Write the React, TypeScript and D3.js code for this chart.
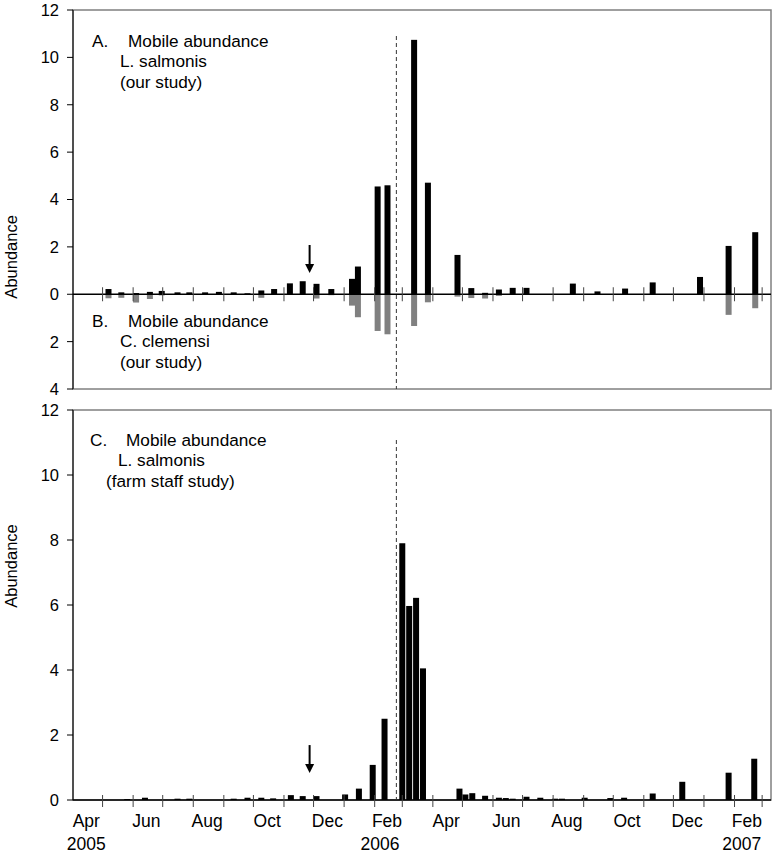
import React from "react";
import * as d3 from "d3";

// ---------- DATA ----------
// Panel A/B: our study (sampling dates, L. salmonis above, C. clemensi below)
const studyDates = [
  "2005-05-07", "2005-05-20", "2005-06-04", "2005-06-18", "2005-06-30", "2005-07-16",
  "2005-07-28", "2005-08-13", "2005-08-27", "2005-09-11", "2005-09-25", "2005-10-09",
  "2005-10-22", "2005-11-07", "2005-11-20", "2005-12-04", "2005-12-19", "2006-01-09",
  "2006-01-15", "2006-02-04", "2006-02-14", "2006-03-13", "2006-03-27", "2006-04-26",
  "2006-05-10", "2006-05-24", "2006-06-07", "2006-06-21", "2006-07-05", "2006-08-21",
  "2006-09-15", "2006-10-13", "2006-11-10", "2006-12-28", "2007-01-26", "2007-02-22",
];
const salmonisStudy = [
  0.22, 0.08, 0.05, 0.1, 0.14, 0.08,
  0.08, 0.08, 0.1, 0.08, 0.04, 0.16,
  0.22, 0.46, 0.55, 0.44, 0.22, 0.65,
  1.17, 4.55, 4.6, 10.74, 4.71, 1.66,
  0.26, 0.06, 0.2, 0.27, 0.27, 0.45,
  0.12, 0.24, 0.5, 0.73, 2.04, 2.62,
];
const clemensiStudy = [
  0.17, 0.15, 0.35, 0.2, 0.05, 0,
  0, 0, 0, 0, 0, 0.15,
  0, 0, 0, 0.18, 0.04, 0.48,
  0.97, 1.55, 1.69, 1.34, 0.34, 0.1,
  0.16, 0.18, 0.07, 0, 0.03, 0,
  0, 0, 0, 0, 0.87, 0.59,
];

// Panel C: farm staff study
const farmDates = [
  "2005-05-26", "2005-06-13", "2005-07-16", "2005-07-28", "2005-09-11", "2005-09-25",
  "2005-10-09", "2005-10-21", "2005-11-08", "2005-11-20", "2005-12-04", "2006-01-02",
  "2006-01-16", "2006-01-30", "2006-02-11", "2006-03-01", "2006-03-08", "2006-03-15",
  "2006-03-22", "2006-04-28", "2006-05-04", "2006-05-11", "2006-05-24", "2006-06-07",
  "2006-06-14", "2006-06-21", "2006-07-05", "2006-07-19", "2006-08-03", "2006-08-10",
  "2006-09-02", "2006-09-28", "2006-10-12", "2006-11-10", "2006-12-10", "2007-01-26",
  "2007-02-21",
];
const salmonisFarm = [
  0.03, 0.07, 0.04, 0.04, 0.04, 0.07,
  0.07, 0.05, 0.15, 0.12, 0.12, 0.17,
  0.35, 1.08, 2.5, 7.9, 5.97, 6.22,
  4.05, 0.35, 0.17, 0.21, 0.13, 0.07,
  0.06, 0.04, 0.1, 0.07, 0.04, 0.04,
  0.07, 0.06, 0.07, 0.2, 0.56, 0.84,
  1.27,
];

const topTickValues = [12, 10, 8, 6, 4, 2, 0, -2, -4];
const bottomTickValues = [12, 10, 8, 6, 4, 2, 0];
const monthLabelDates = [
  "2005-04-01", "2005-06-01", "2005-08-01", "2005-10-01", "2005-12-01", "2006-02-01",
  "2006-04-01", "2006-06-01", "2006-08-01", "2006-10-01", "2006-12-01", "2007-02-01",
];
const monthLabelTexts = ["Apr", "Jun", "Aug", "Oct", "Dec", "Feb", "Apr", "Jun", "Aug", "Oct", "Dec", "Feb"];
const yearLabelDates = ["2005-04-01", "2006-02-01", "2007-02-01"];
const yearLabelTexts = ["2005", "2006", "2007"];
const yearLabelShift = [0, -7, -5];

const domainStart = "2005-04-01";
const domainEnd = "2007-03-10";
const fallowDate = "2006-02-23";
const arrowDate = "2005-11-27";
const arrowTop = [2.08, 1.69];
const arrowTip = [0.9, 0.83];

const panelAText = ["A.", "Mobile abundance", "L. salmonis", "(our study)"];
const panelBText = ["B.", "Mobile abundance", "C. clemensi", "(our study)"];
const panelCText = ["C.", "Mobile abundance", "L. salmonis", "(farm staff study)"];

// ---------- LAYOUT ----------
const W = 772;
const H = 858;
const left = 73;
const right = 771;
const topA = 10;
const bottomA = 389;
const topC = 410;
const bottomC = 800;
const FONT = "'Liberation Sans', Arial, Helvetica, sans-serif";
const GREY = "#808080";

const parse = d3.timeParse("%Y-%m-%d");

export default function App() {
  const x = d3
    .scaleTime()
    .domain([parse(domainStart)!, parse(domainEnd)!])
    .range([left, right]);
  const yA = d3.scaleLinear().domain([-4, 12]).range([bottomA, topA]);
  const yC = d3.scaleLinear().domain([0, 12]).range([bottomC, topC]);

  const monthTicks = d3.timeMonth.range(parse("2005-05-01")!, parse("2007-03-02")!);
  const barW = 6;

  const monthMid = (s: string) => {
    const d = parse(s)!;
    const e = d3.timeMonth.offset(d, 1);
    return (x(d) + x(e)) / 2 - 1.5;
  };

  const arrow = (xv: number, y1: number, y2: number) => (
    <g>
      <line x1={xv} x2={xv} y1={y1} y2={y2 - 8} stroke="#000" strokeWidth={2} />
      <path d={`M${xv - 4.5},${y2 - 9} L${xv + 4.5},${y2 - 9} L${xv},${y2} Z`} fill="#000" />
    </g>
  );

  const yAxis = (scale: d3.ScaleLinear<number, number>, ticks: number[], y0: number, y1: number) => (
    <g>
      <line x1={left} x2={left} y1={y0} y2={y1} stroke="#000" strokeWidth={1} />
      {ticks.map((t, i) => (
        <g key={i}>
          <line x1={left - 6} x2={left} y1={scale(t)} y2={scale(t)} stroke="#000" />
          <text
            x={59}
            y={scale(t)}
            dy="0.36em"
            textAnchor="end"
            fontSize={16.5}
            fontFamily={FONT}
            fill="#000"
          >
            {Math.abs(t)}
          </text>
        </g>
      ))}
    </g>
  );

  const panelText = (lines: string[], bx: number, by: number, subX: number, sub2X: number) => (
    <g fontFamily={FONT} fontSize={17.2} fill="#000">
      <text x={bx} y={by}>{lines[0]}</text>
      <text x={bx + 36} y={by}>{lines[1]}</text>
      <text x={subX} y={by + 20}>{lines[2]}</text>
      <text x={sub2X} y={by + 41}>{lines[3]}</text>
    </g>
  );

  return (
    <svg
      width={W}
      height={H}
      style={{ position: "absolute", left: 0, top: 0, background: "#fff" }}
    >
      <rect x={0} y={0} width={W} height={H} fill="#fff" />

      {/* ---------- Panel A/B ---------- */}
      <rect x={left} y={topA} width={right - left} height={bottomA - topA} fill="none" stroke={GREY} strokeWidth={1.5} />
      {yAxis(yA, topTickValues, topA, bottomA)}
      {studyDates.map((d, i) => {
        const cx = x(parse(d)!);
        return (
          <g key={i}>
            {salmonisStudy[i] > 0 && (
              <rect x={cx - barW / 2} y={yA(salmonisStudy[i])} width={barW} height={yA(0) - yA(salmonisStudy[i])} fill="#000" />
            )}
            {clemensiStudy[i] > 0 && (
              <rect x={cx - barW / 2} y={yA(0)} width={barW} height={yA(-clemensiStudy[i]) - yA(0)} fill={GREY} />
            )}
          </g>
        );
      })}
      <line x1={left} x2={right} y1={yA(0)} y2={yA(0)} stroke="#000" strokeWidth={1.5} />
      {monthTicks.map((m, i) => (
        <line key={i} x1={x(m)} x2={x(m)} y1={yA(0) - 7} y2={yA(0) + 7} stroke="#444" strokeWidth={1} />
      ))}
      <line
        x1={x(parse(fallowDate)!)}
        x2={x(parse(fallowDate)!)}
        y1={36}
        y2={bottomA}
        stroke="#333"
        strokeWidth={1}
        strokeDasharray="4,3"
      />
      {arrow(x(parse(arrowDate)!), yA(arrowTop[0]), yA(arrowTip[0]))}
      {panelText(panelAText, 92, 46.5, 120, 120)}
      {panelText(panelBText, 92, 327, 120, 120)}
      <text
        transform={`translate(17,${(yA(4) + yA(0)) / 2 + 10}) rotate(-90)`}
        textAnchor="middle"
        fontFamily={FONT}
        fontSize={16.5}
      >
        Abundance
      </text>

      {/* ---------- Panel C ---------- */}
      <rect x={left} y={topC} width={right - left} height={bottomC - topC} fill="none" stroke={GREY} strokeWidth={1.5} />
      {yAxis(yC, bottomTickValues, topC, bottomC)}
      {farmDates.map((d, i) => {
        const cx = x(parse(d)!);
        return (
          <rect
            key={i}
            x={cx - barW / 2}
            y={yC(salmonisFarm[i])}
            width={barW}
            height={yC(0) - yC(salmonisFarm[i])}
            fill="#000"
          />
        );
      })}
      <line x1={left} x2={right} y1={yC(0)} y2={yC(0)} stroke="#000" strokeWidth={1.5} />
      {monthTicks.map((m, i) => (
        <line key={i} x1={x(m)} x2={x(m)} y1={yC(0) - 5} y2={yC(0) + 7} stroke="#444" strokeWidth={1} />
      ))}
      <line
        x1={x(parse(fallowDate)!)}
        x2={x(parse(fallowDate)!)}
        y1={440}
        y2={bottomC}
        stroke="#333"
        strokeWidth={1}
        strokeDasharray="4,3"
      />
      {arrow(x(parse(arrowDate)!), yC(arrowTop[1]), yC(arrowTip[1]))}
      {panelText(panelCText, 90, 446, 118, 106)}
      <text
        transform={`translate(17,${yC(7.2)}) rotate(-90)`}
        textAnchor="middle"
        fontFamily={FONT}
        fontSize={16.5}
      >
        Abundance
      </text>

      {/* x labels */}
      {monthLabelDates.map((d, i) => (
        <text key={i} x={monthMid(d)} y={827} textAnchor="middle" fontFamily={FONT} fontSize={17.5}>
          {monthLabelTexts[i]}
        </text>
      ))}
      {yearLabelDates.map((d, i) => (
        <text key={i} x={monthMid(d) + yearLabelShift[i]} y={850} textAnchor="middle" fontFamily={FONT} fontSize={17.5}>
          {yearLabelTexts[i]}
        </text>
      ))}
    </svg>
  );
}
